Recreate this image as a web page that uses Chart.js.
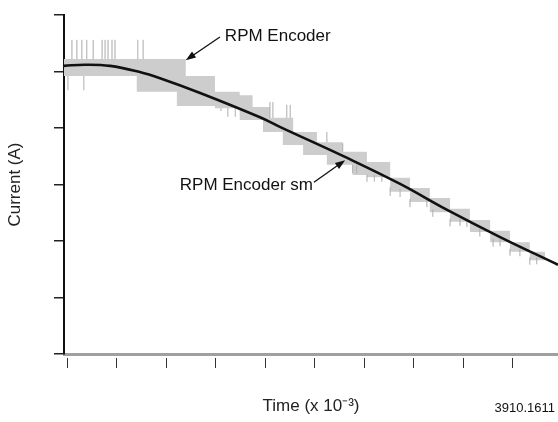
<!DOCTYPE html>
<html>
<head>
<meta charset="utf-8">
<script src="https://cdn.jsdelivr.net/npm/chart.js@4.4.1/dist/chart.umd.min.js"></script>
<style>
html, body { margin: 0; padding: 0; background: #fff; }
canvas { display: block; }
</style>
</head>
<body>
<canvas id="currentChart" width="558" height="422"></canvas>
<script>
//SMOOTHED CURVE (time x 10^-3, current)
var smTime = [-0.07, 0.35, 0.86, 1.46, 1.87, 2.68, 3.89, 4.29, 5.65, 6.72, 7.67, 8.74, 9.91];
var smCurrent = [5.10, 5.12, 5.10, 4.99, 4.88, 4.62, 4.19, 4.02, 3.47, 3.01, 2.55, 2.07, 1.58];

//RAW ENCODER BAND (step edges, upper and lower envelope)
var encTime = [-0.07, 1.40, 2.21, 2.39, 2.98, 3.48, 3.74, 3.95, 4.09, 4.35, 4.56, 4.76, 5.04, 5.24, 5.56, 5.76, 6.05, 6.52, 6.92, 7.32, 7.73, 8.13, 8.54, 8.94, 9.34, 9.65];
var encHigh = [5.22, 5.22, 5.22, 4.92, 4.64, 4.58, 4.37, 4.37, 4.18, 4.18, 3.93, 3.93, 3.75, 3.75, 3.58, 3.58, 3.40, 3.12, 2.94, 2.76, 2.57, 2.37, 2.18, 1.98, 1.81, 1.81];
var encLow = [4.92, 4.64, 4.39, 4.39, 4.35, 4.14, 4.14, 3.93, 3.93, 3.70, 3.70, 3.52, 3.52, 3.35, 3.35, 3.17, 3.13, 2.87, 2.69, 2.51, 2.34, 2.16, 1.98, 1.81, 1.66, 1.66];

//RAW ENCODER SPIKES
var spikeTime = [0.01, 0.09, 0.19, 0.29, 0.33, 0.39, 0.52, 0.70, 0.76, 0.82, 0.90, 0.96, 1.42, 1.53,
    3.10, 3.24, 3.39, 4.09, 4.15, 4.43, 4.50, 5.24, 5.56, 5.76, 5.84, 6.05, 6.20, 6.35,
    6.52, 6.72, 6.92, 7.26, 7.38, 7.73, 7.93, 8.07, 8.33, 8.60, 8.74, 8.94, 9.14, 9.34, 9.48];
var spikeTop = [4.92, 5.56, 5.56, 5.56, 4.92, 5.56, 5.56, 5.56, 5.56, 5.56, 5.56, 5.56, 5.56, 5.56,
    4.35, 4.35, 4.35, 4.46, 4.46, 4.41, 4.41, 3.93, 3.73, 3.35, 3.35, 3.17, 3.17, 3.17,
    2.95, 2.92, 2.74, 2.74, 2.56, 2.39, 2.39, 2.39, 2.21, 2.03, 2.03, 1.86, 1.86, 1.71, 1.71];
var spikeBottom = [4.67, 5.22, 5.22, 5.22, 4.67, 5.22, 5.22, 5.22, 5.22, 5.22, 5.22, 5.22, 5.22, 5.22,
    4.30, 4.20, 4.20, 4.18, 4.18, 4.18, 4.18, 3.75, 3.58, 3.20, 3.20, 3.05, 3.05, 3.05,
    2.80, 2.78, 2.60, 2.60, 2.43, 2.26, 2.27, 2.25, 2.08, 1.90, 1.91, 1.74, 1.73, 1.58, 1.59];

var annotationLabels = ['RPM Encoder', 'RPM Encoder sm'];

Chart.defaults.font.family = "'Liberation Sans', Arial, sans-serif";
Chart.defaults.color = '#222';

var ctx = document.getElementById('currentChart').getContext('2d');

function toPoints(xs, ys) {
    return xs.map(function(x, i) { return { x: x, y: ys[i] }; });
}

var spikeData = [];
spikeTime.forEach(function(t, i) {
    spikeData.push({ x: t, y: spikeTop[i] });
    spikeData.push({ x: t, y: spikeBottom[i] });
    spikeData.push({ x: t, y: null });
});

function drawArrow(c, x1, y1, x2, y2) {
    var ang = Math.atan2(y2 - y1, x2 - x1);
    var len = 10, half = 3.6;
    c.beginPath();
    c.moveTo(x1, y1);
    c.lineTo(x2 - Math.cos(ang) * len * 0.8, y2 - Math.sin(ang) * len * 0.8);
    c.stroke();
    c.beginPath();
    c.moveTo(x2, y2);
    c.lineTo(x2 - Math.cos(ang) * len - Math.sin(ang) * half, y2 - Math.sin(ang) * len + Math.cos(ang) * half);
    c.lineTo(x2 - Math.cos(ang) * len + Math.sin(ang) * half, y2 - Math.sin(ang) * len - Math.cos(ang) * half);
    c.closePath();
    c.fill();
}

//LABELS AND ARROWS, PLACED IN DATA UNITS
var annotationPlugin = {
    id: 'annotations',
    afterDatasetsDraw: function(chart) {
        var c = chart.ctx, xs = chart.scales.x, ys = chart.scales.y;
        var spots = [
            { at: [3.18, 5.63], align: 'left', from: [3.08, 5.61], to: [2.39, 5.20] },
            { at: [4.96, 2.99], align: 'right', from: [4.98, 3.04], to: [5.61, 3.43] }
        ];
        c.save();
        c.fillStyle = '#111';
        c.strokeStyle = '#111';
        c.lineWidth = 1.3;
        c.font = "17px 'Liberation Sans', Arial, sans-serif";
        c.textBaseline = 'middle';
        spots.forEach(function(s, i) {
            c.textAlign = s.align;
            c.fillText(annotationLabels[i], xs.getPixelForValue(s.at[0]), ys.getPixelForValue(s.at[1]));
            drawArrow(c, xs.getPixelForValue(s.from[0]), ys.getPixelForValue(s.from[1]),
                xs.getPixelForValue(s.to[0]), ys.getPixelForValue(s.to[1]));
        });
        c.font = "13px 'Liberation Sans', Arial, sans-serif";
        c.textAlign = 'right';
        c.fillText('3910.1611', chart.width - 3, 408);
        c.restore();
    }
};

var currentChart = new Chart(ctx, {
    type: 'line',
    data: {
        datasets: [{
            label: 'RPM Encoder sm',
            data: toPoints(smTime, smCurrent),
            borderColor: '#111',
            borderWidth: 2.6,
            pointRadius: 0,
            tension: 0.4,
            order: 0
        }, {
            label: 'RPM Encoder spikes',
            data: spikeData,
            borderColor: 'rgba(175, 175, 175, 0.45)',
            borderWidth: 1,
            pointRadius: 0,
            spanGaps: false,
            order: 1
        }, {
            label: 'RPM Encoder high',
            data: toPoints(encTime, encHigh),
            borderColor: 'rgba(0, 0, 0, 0)',
            borderWidth: 0,
            pointRadius: 0,
            stepped: true,
            fill: false,
            order: 2
        }, {
            label: 'RPM Encoder',
            data: toPoints(encTime, encLow),
            borderColor: 'rgba(0, 0, 0, 0)',
            borderWidth: 0,
            pointRadius: 0,
            stepped: true,
            fill: '-1',
            backgroundColor: '#cdcdcd',
            order: 2
        }]
    },
    options: {
        responsive: false,
        animation: false,
        layout: { padding: { top: 15, right: 0, left: 0, bottom: 0 } },
        plugins: {
            legend: { display: false },
            tooltip: { enabled: false }
        },
        scales: {
            x: {
                type: 'linear',
                min: -0.07,
                max: 9.91,
                ticks: { display: false, stepSize: 1, includeBounds: false },
                grid: {
                    drawOnChartArea: false,
                    tickLength: 14,
                    color: '#333',
                    lineWidth: 1,
                    tickBorderDash: [0, 2, 12, 100]
                },
                border: { color: '#a0a0a0', width: 3 },
                title: {
                    display: true,
                    text: 'Time (x 10\u207B\u00B3)',
                    font: { size: 17 },
                    padding: { top: 0, bottom: 5 }
                },
                afterFit: function(scale) { scale.height = 68; }
            },
            y: {
                min: 0,
                max: 6,
                ticks: { display: false, stepSize: 1 },
                grid: {
                    drawOnChartArea: false,
                    tickLength: 10,
                    color: '#222',
                    lineWidth: 1.5
                },
                border: { color: '#111', width: 2 },
                title: {
                    display: true,
                    text: 'Current (A)',
                    font: { size: 17 },
                    padding: { top: 5, bottom: 0 }
                },
                afterFit: function(scale) { scale.width = 64; }
            }
        }
    },
    plugins: [annotationPlugin]
});
</script>
</body>
</html>
